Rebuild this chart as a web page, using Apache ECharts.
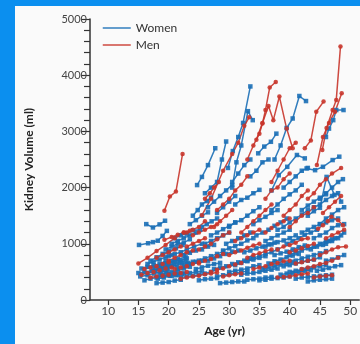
<!DOCTYPE html>
<html><head><meta charset="utf-8">
<script src="https://cdn.jsdelivr.net/npm/echarts@6/dist/echarts.min.js"></script>
<style>
html,body{margin:0;padding:0;background:#0b8fef;width:360px;height:344px;overflow:hidden}
#c{position:absolute;left:15px;top:6px;width:345px;height:338px;background:#fafafa}
</style>
</head><body><div id="c"></div>
<script>
// age tick labels
const ageTicks = [10, 15, 20, 25, 30, 35, 40, 45, 50];
const volumeTicks = [0, 1000, 2000, 3000, 4000, 5000];
const groups = ['Women', 'Men'];

// each trajectory: [age (yr), kidney volume (ml)]
const women = [
  [[15.0,480],[16.0,500],[17.2,520],[18.3,560],[19.5,580],[20.5,610]],
  [[15.3,420],[16.5,440],[17.6,470],[18.7,500],[19.8,520]],
  [[16.3,1350],[17.4,1290],[18.5,1345],[19.4,1410]],
  [[15.1,980],[16.6,1010],[17.4,1030],[18.2,1055],[19.0,1140],[19.7,1230]],
  [[17.0,700],[18.0,760],[19.0,820],[20.0,870],[21.2,920],[22.3,980]],
  [[17.5,560],[18.5,600],[19.5,650],[20.5,690],[21.5,730],[22.8,760]],
  [[18.0,300],[19.0,310],[20.0,320],[21.0,345],[22.0,360]],
  [[18.5,450],[19.5,480],[20.5,500],[21.5,520],[22.5,560],[23.5,590]],
  [[19.0,620],[20.0,650],[21.0,690],[22.0,700],[23.0,740]],
  [[20.0,780],[21.0,820],[22.0,850],[23.0,900],[24.2,950],[25.5,1000]],
  [[19.5,900],[20.5,950],[21.5,1000],[22.5,1020],[23.5,1080]],
  [[21.0,1100],[22.0,1150],[23.0,1180],[24.0,1240],[25.2,1250]],
  [[22.0,400],[23.0,420],[24.0,430],[25.0,450],[26.0,470],[27.0,500]],
  [[23.0,640],[24.0,680],[25.0,700],[26.0,740],[27.0,780],[28.0,820],[29.0,860]],
  [[24.0,1500],[24.8,1600],[25.5,1700],[26.3,1760],[27.0,1820]],
  [[24.7,2045],[25.5,2190],[26.5,2400],[27.7,2700]],
  [[25.5,1300],[26.3,1350],[27.1,1400],[28.0,1450]],
  [[26.0,1900],[27.0,2000],[28.0,2100],[28.8,2500],[29.5,2820]],
  [[29.8,2350],[30.6,2650],[31.5,2900],[32.3,3150],[33.5,3800]],
  [[30.5,2000],[31.2,2450],[32.0,2750],[33.1,3360],[33.9,3200]],
  [[28.5,300],[29.5,310],[30.5,320],[31.5,330],[32.5,330]],
  [[27.5,550],[28.5,580],[29.5,600],[30.5,640],[31.5,670],[32.5,700],[33.5,740]],
  [[29.0,880],[30.0,920],[31.0,960],[32.0,1000],[33.0,1060],[34.0,1100]],
  [[30.0,1300],[31.0,1380],[32.0,1420],[33.0,1500],[34.0,1580],[35.0,1650]],
  [[31.0,1700],[32.0,1780],[33.0,1820],[34.0,1900],[35.0,1960]],
  [[32.0,450],[33.0,470],[34.0,480],[35.0,500],[36.0,520],[37.0,540],[38.0,560]],
  [[33.0,700],[34.0,750],[35.0,780],[36.0,820],[37.0,850],[38.0,900]],
  [[34.8,2610],[35.8,2730],[36.9,2815],[37.8,2960]],
  [[34.5,1150],[35.5,1200],[36.5,1250],[37.5,1320],[38.5,1380],[39.5,1450]],
  [[35.0,350],[36.0,360],[37.0,380],[38.0,390],[39.0,400],[40.0,420]],
  [[36.0,950],[37.0,990],[38.0,1030],[39.0,1060],[40.0,1100],[41.0,1150]],
  [[37.0,1600],[38.0,1700],[39.0,1800],[40.0,1880],[41.0,1950],[42.0,2050]],
  [[37.5,2500],[38.5,2750],[39.5,3060],[40.5,3230],[41.6,3630],[42.7,3540]],
  [[37.0,1950],[38.2,2220],[39.6,2370],[41.2,2580],[42.5,2520]],
  [[42.8,2340],[44.2,2310],[45.5,2370],[47.1,2490],[48.2,2550]],
  [[39.0,600],[40.0,620],[41.0,650],[42.0,680],[43.0,700],[44.0,720],[45.0,760]],
  [[40.0,800],[41.0,850],[42.0,880],[43.0,920],[44.0,950],[45.0,1000],[46.0,1050],[47.0,1080]],
  [[41.0,380],[42.0,400],[43.0,410],[44.0,420],[45.0,430],[46.0,440],[47.0,450]],
  [[42.0,1200],[43.0,1250],[44.0,1300],[45.0,1350],[46.0,1380],[47.0,1420],[48.0,1450]],
  [[43.0,1500],[44.0,1580],[45.0,1640],[46.1,2190],[47.4,1870]],
  [[44.0,1650],[45.0,1700],[46.0,1780],[47.0,1850],[48.0,1900],[48.5,1750]],
  [[46.0,2900],[46.5,3050],[47.2,3200],[47.7,3380],[48.9,3380]],
  [[43.5,900],[44.5,950],[45.5,980],[46.5,1050],[47.5,1100],[48.5,1150]],
  [[40.0,500],[41.0,520],[42.0,540],[43.0,560],[44.0,580],[45.0,600],[46.0,620]],
  [[36.5,650],[37.5,690],[38.5,720],[39.5,760],[40.5,790],[41.5,820]],
  [[30.0,500],[31.0,520],[32.0,540],[33.0,560],[34.0,600],[35.0,620]],
  [[20.5,430],[21.5,450],[22.5,470],[23.5,480],[24.5,500],[25.5,510]],
  [[45.0,1800],[46.0,1900],[47.0,2000],[48.0,2100],[48.8,2150]],
  [[26.0,1000],[27.0,1050],[28.0,1100],[29.0,1150],[30.0,1200]],
  [[28.0,1550],[29.0,1650],[30.0,1750],[31.0,1850]],
  [[33.5,2200],[34.5,2300],[35.5,2450],[36.5,2500]],
  [[44.0,1100],[45.0,1150],[46.0,1200],[47.0,1280],[48.0,1330],[49.0,1350]],
  [[38.0,1250],[39.0,1300],[40.0,1380],[41.0,1450],[42.0,1520],[43.0,1600]],
  [[46.0,700],[47.0,720],[48.0,760],[49.0,800]],
  [[15.5,560],[16.5,590],[17.5,620],[18.5,640],[19.5,690]],
  [[16.0,350],[17.0,380],[18.0,400],[19.0,420],[20.0,440],[21.0,460]],
  [[16.5,640],[17.5,680],[18.5,720],[19.5,760],[20.5,800]],
  [[17.8,520],[18.8,560],[19.8,610],[20.8,640],[21.8,680],[22.8,700]],
  [[18.2,380],[19.2,400],[20.2,430],[21.2,440],[22.2,470]],
  [[19.0,540],[19.8,560],[20.6,600],[21.4,620],[22.2,650],[23.2,660]],
  [[20.5,1000],[21.5,1050],[22.5,1100],[23.5,1150],[24.5,1200]],
  [[21.5,560],[22.5,600],[23.5,640],[24.5,680],[25.5,700]],
  [[22.5,800],[23.5,840],[24.5,880],[25.5,900],[26.5,950],[27.5,980]],
  [[23.5,1350],[24.5,1420],[25.5,1500],[26.5,1560]],
  [[24.5,550],[25.5,580],[26.5,610],[27.5,640],[28.5,660]],
  [[25.0,350],[26.0,370],[27.0,380],[28.0,390]],
  [[26.5,700],[27.5,740],[28.5,780],[29.5,820],[30.5,860],[31.5,880]],
  [[27.0,1150],[28.0,1200],[29.0,1260],[30.0,1320],[31.0,1380]],
  [[28.0,420],[29.0,440],[30.0,460],[31.0,480],[32.0,500],[33.0,510]],
  [[29.5,1000],[30.5,1050],[31.5,1100],[32.5,1150],[33.5,1200]],
  [[31.0,620],[32.0,660],[33.0,690],[34.0,720],[35.0,750],[36.0,780]],
  [[32.5,850],[33.5,880],[34.5,920],[35.5,950],[36.5,990],[37.5,1020]],
  [[33.0,360],[34.0,370],[35.0,380],[36.0,400],[37.0,410]],
  [[34.0,1350],[35.0,1420],[36.0,1480],[37.0,1550],[38.0,1600]],
  [[35.5,550],[36.5,580],[37.5,600],[38.5,630],[39.5,650],[40.5,680]],
  [[36.0,1050],[37.0,1100],[38.0,1150],[39.0,1200],[40.0,1250]],
  [[37.5,800],[38.5,830],[39.5,860],[40.5,900],[41.5,940],[42.5,970]],
  [[38.5,450],[39.5,470],[40.5,480],[41.5,500],[42.5,520],[43.5,530]],
  [[39.5,1000],[40.5,1050],[41.5,1100],[42.5,1160],[43.5,1200],[44.5,1250]],
  [[41.0,700],[42.0,740],[43.0,770],[44.0,800],[45.0,830],[46.0,870]],
  [[42.0,1600],[43.0,1680],[44.0,1750],[45.0,1820],[46.0,1880]],
  [[43.0,330],[44.0,350],[45.0,360],[46.0,370],[47.0,380]],
  [[44.5,520],[45.5,540],[46.5,570],[47.5,600],[48.5,620]],
  [[45.0,1350],[46.0,1450],[47.0,1520],[48.0,1600],[49.0,1650]],
  [[46.0,1000],[47.0,1050],[48.0,1100],[49.0,1200]],
  [[39.0,2000],[40.0,2100],[41.0,2200],[42.0,2300],[43.0,2350]],
  [[30.5,2100],[31.5,2250],[32.5,2400],[33.5,2500]],
  [[26.5,1650],[27.5,1750],[28.5,1850],[29.5,1950],[30.5,2050]]
];

const men = [
  [[19.3,1590],[20.2,1840],[21.2,1930],[22.3,2600]],
  [[15.0,650],[16.5,750],[18.0,870],[19.5,980],[21.0,1100],[22.5,1200]],
  [[19.3,1070],[20.5,1120],[21.5,1160],[22.5,1200],[23.5,1230]],
  [[15.5,450],[16.5,480],[17.5,500],[18.5,530],[19.5,560],[20.5,580]],
  [[17.0,400],[18.0,420],[19.0,430],[20.0,450],[21.0,470],[22.0,480],[23.0,500]],
  [[20.0,700],[21.0,750],[22.0,800],[23.0,850],[24.0,880]],
  [[22.0,380],[23.0,400],[24.0,420],[25.0,430],[26.0,460],[27.0,470],[28.0,490]],
  [[24.0,1150],[25.0,1200],[26.0,1250],[27.0,1300],[28.0,1350]],
  [[25.0,900],[26.0,950],[27.0,1000],[28.0,1080],[29.0,1150],[30.0,1200]],
  [[26.0,1800],[26.8,1900],[27.5,2000],[28.3,2100]],
  [[25.5,1510],[27.0,1800],[29.0,2300],[30.5,2600],[31.5,2800],[32.5,3100],[33.3,3250]],
  [[33.0,2500],[34.0,2750],[35.0,2960],[35.5,3140],[36.0,3380],[36.7,3780],[37.7,3880]],
  [[34.5,2850],[35.5,3150],[36.5,3450],[37.3,3200],[38.3,3620],[39.5,3050],[40.5,2700]],
  [[37.0,2100],[38.0,2300],[39.0,2500],[40.0,2700],[41.0,2800]],
  [[42.5,2700],[43.5,2840],[44.4,3350],[45.6,3530]],
  [[45.4,2670],[46.1,3060],[47.1,3380],[47.7,3560],[48.4,4510]],
  [[44.5,2400],[45.5,2900],[46.5,3150],[47.5,3350],[48.6,3680]],
  [[27.0,500],[28.0,540],[29.0,560],[30.0,600],[31.0,630],[32.0,660]],
  [[30.0,800],[31.0,850],[32.0,880],[33.0,930],[34.0,970],[35.0,1000]],
  [[32.0,1200],[33.0,1300],[34.0,1400],[35.0,1500],[36.0,1600],[37.0,1700]],
  [[34.0,550],[35.0,580],[36.0,600],[37.0,640],[38.0,660],[39.0,690],[40.0,700]],
  [[36.0,1800],[37.0,1950],[38.0,2000],[39.0,2150],[40.0,2250]],
  [[38.0,900],[39.0,950],[40.0,980],[41.0,1020],[42.0,1080],[43.0,1100]],
  [[40.0,1300],[41.0,1400],[42.0,1500],[43.0,1550],[44.0,1650]],
  [[43.0,1800],[44.0,1900],[45.0,2050],[46.0,2150],[47.0,2250],[48.5,2350]],
  [[44.7,1270],[45.5,1330],[46.3,1400],[46.9,1480],[48.0,1420],[48.8,1330]],
  [[42.0,550],[43.0,580],[44.0,600],[45.0,640],[46.0,660],[47.0,700],[48.0,750]],
  [[45.0,800],[46.0,850],[47.0,900],[48.0,940],[49.3,950]],
  [[38.0,400],[39.0,410],[40.0,420],[41.0,440],[42.0,460],[43.0,470]],
  [[28.0,1600],[29.0,1700],[30.0,1800],[31.0,1950],[32.0,2050],[33.0,2200]],
  [[39.0,1500],[40.0,1600],[41.0,1700],[42.0,1850],[43.0,1950]],
  [[23.0,1200],[24.0,1250],[25.0,1300],[26.0,1400]],
  [[16.0,550],[17.0,580],[18.0,600],[19.0,640],[20.0,670]],
  [[18.0,750],[19.0,800],[20.0,850],[21.0,900],[22.0,950]],
  [[21.0,550],[22.0,580],[23.0,600],[24.0,640],[25.0,670]],
  [[23.0,950],[24.0,1000],[25.0,1050],[26.0,1100]],
  [[25.0,650],[26.0,700],[27.0,730],[28.0,780],[29.0,820]],
  [[29.0,420],[30.0,440],[31.0,460],[32.0,470]],
  [[31.0,1050],[32.0,1100],[33.0,1150],[34.0,1200],[35.0,1250]],
  [[33.0,750],[34.0,800],[35.0,830],[36.0,870],[37.0,900]],
  [[36.0,1200],[37.0,1280],[38.0,1350],[39.0,1400],[40.0,1450]],
  [[40.0,850],[41.0,880],[42.0,920],[43.0,960],[44.0,1000]],
  [[41.0,650],[42.0,670],[43.0,700],[44.0,720]],
  [[44.0,400],[45.0,420],[46.0,430],[47.0,440]],
  [[45.5,1550],[46.5,1650],[47.5,1750],[48.5,1850]],
  [[46.0,1100],[47.0,1150],[48.0,1200],[49.0,1250]],
  [[27.5,1300],[28.5,1400],[29.5,1500],[30.5,1600]]
];

const BLUE = '#1b6fb6';
const RED = '#c8352b';

function mk(list, name, color, symbol) {
  return list.map(tr => ({
    type: 'line', name: name, data: tr, symbol: symbol, symbolSize: 4.5,
    showSymbol: true, silent: true,
    lineStyle: { width: 1.5, color: color, opacity: 0.9 },
    itemStyle: { color: color, opacity: 0.9 }
  }));
}

const chart = echarts.init(document.getElementById('c'), null, { renderer: 'canvas' });
const FONT = 'Lato';
chart.setOption({
  animation: false,
  textStyle: { fontFamily: FONT },
  legend: {
    data: groups,
    orient: 'vertical', left: 82, top: 10, itemGap: 3,
    itemWidth: 28, itemHeight: 2,
    itemStyle: { color: 'rgba(0,0,0,0)', borderColor: 'rgba(0,0,0,0)', borderWidth: 0 },
    lineStyle: { width: 1.5 },
    textStyle: { fontSize: 12, color: '#333', fontFamily: FONT, lineHeight: 14 }
  },
  grid: { left: 71, top: 13, right: 0, bottom: 44, containLabel: false },
  xAxis: {
    type: 'value', min: 7, max: 51.5,
    name: 'Age (yr)', nameLocation: 'middle', nameGap: 25,
    nameTextStyle: { fontSize: 12, fontWeight: 'bold', color: '#222', fontFamily: FONT },
    axisLine: { lineStyle: { color: '#333', width: 1.5 } },
    axisTick: { show: true, length: 5, customValues: ageTicks, lineStyle: { color: '#333', width: 1.2 } },
    axisLabel: { customValues: ageTicks, fontSize: 12, color: '#444', margin: 5, fontFamily: FONT },
    splitLine: { show: false }
  },
  yAxis: {
    type: 'value', min: 0, max: 5000, interval: 1000,
    name: 'Kidney Volume (ml)', nameLocation: 'middle', nameGap: 55,
    nameTextStyle: { fontSize: 12, fontWeight: 'bold', color: '#222', fontFamily: FONT },
    axisLine: { show: true, lineStyle: { color: '#333', width: 1.5 } },
    axisTick: { show: true, length: 9, lineStyle: { color: '#333', width: 1.2 } },
    minorTick: { show: true, splitNumber: 5, length: 6, lineStyle: { color: '#333', width: 1.2 } },
    axisLabel: { fontSize: 11, color: '#444', margin: 3, fontFamily: FONT,
      customValues: volumeTicks, formatter: v => String(v) },
    splitLine: { show: false }
  },
  series: [].concat(mk(women, 'Women', BLUE, 'rect'), mk(men, 'Men', RED, 'circle'))
});
</script></body></html>
